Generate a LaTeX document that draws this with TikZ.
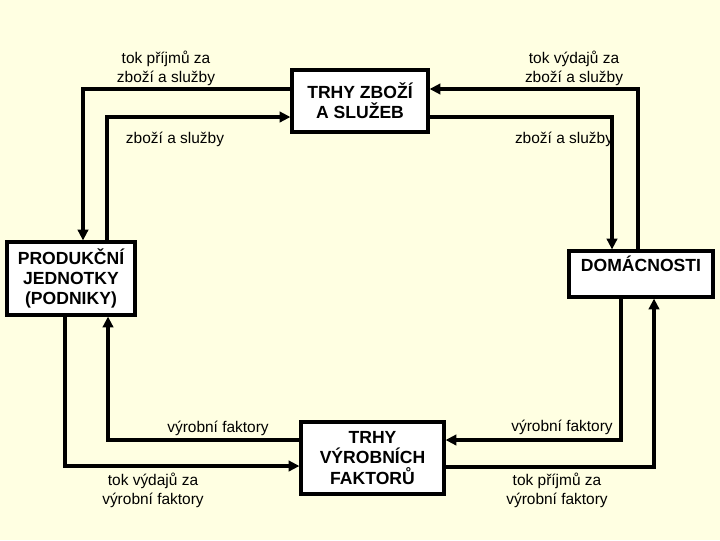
\documentclass[tikz,border=0pt]{standalone}
\usepackage{fontspec}
\setmainfont{Liberation Sans}
\usepackage{tikz}
\usetikzlibrary{arrows.meta, calc}
\definecolor{bgyellow}{RGB}{255,255,226}
\definecolor{mydark}{RGB}{0,0,0}
\tikzset{
  box/.style={rectangle, draw=mydark, fill=white, line width=2.2pt,
    align=center, inner sep=0pt,
    font=\fontsize{12.5}{14.5}\selectfont\bfseries},
  lbl/.style={align=center, inner sep=0pt,
    font=\fontsize{11}{13.5}\selectfont},
  flow/.style={-{Triangle[length=0.27cm, width=0.26cm]}, line width=2.2pt,
    color=mydark},
  line/.style={line width=2.2pt, color=mydark}
}

\begin{document}
\begin{tikzpicture}[x=0.025cm, y=-0.025cm]
  \fill[bgyellow] (0,0) rectangle (720,540);
  \useasboundingbox (0,0) rectangle (720,540);

  % markets and sectors
  \node[box, minimum width=3.4cm, minimum height=1.55cm] (trhyzb) at (360,101)
    {TRHY ZBOŽÍ\\A SLUŽEB};
  \node[box, minimum width=3.2cm, minimum height=1.825cm] (produkcni) at (71,278.5)
    {PRODUKČNÍ\\JEDNOTKY\\(PODNIKY)};
  \node[box, minimum width=3.6cm, text height=0.5cm, text depth=0.65cm] (domacnosti) at (641,274)
    {DOMÁCNOSTI};
  \node[box, minimum width=3.575cm, minimum height=1.8cm] (trhyvf) at (372.5,458)
    {TRHY\\VÝROBNÍCH\\FAKTORŮ};

  % goods market flows
  \draw[flow] ([yshift=0.3cm]trhyzb.west) -| ([xshift=0.3cm]produkcni.north);
  \draw[flow] ([xshift=0.9cm]produkcni.north) |- ([yshift=-0.4cm]trhyzb.west);
  \draw[flow] ([xshift=-0.075cm]domacnosti.north) |- ([yshift=0.3cm]trhyzb.east);
  \draw[flow] ([yshift=-0.4cm]trhyzb.east) -| ([xshift=-0.725cm]domacnosti.north);

  % factor market flows
  \draw[flow] ([xshift=-0.5cm]domacnosti.south) |- ([yshift=0.45cm]trhyvf.east);
  \draw[flow] ([yshift=-0.225cm]trhyvf.east) -| ([xshift=0.325cm]domacnosti.south);
  \draw[flow] ([xshift=-0.15cm]produkcni.south) |- ([yshift=-0.2cm]trhyvf.west);
  \draw[flow] ([yshift=0.45cm]trhyvf.west) -| ([xshift=0.925cm]produkcni.south);

  % labels
  \node[lbl] (prijmyzb) at (166,68) {tok příjmů za\\zboží a služby};
  \node[lbl] (zbleft) at (175,139) {zboží a služby};
  \node[lbl] (vydajezb) at (574,68) {tok výdajů za\\zboží a služby};
  \node[lbl] (zbright) at (564,139) {zboží a služby};
  \node[lbl] (vfleft) at (218,428) {výrobní faktory};
  \node[lbl] (vydajevf) at (153,490) {tok výdajů za\\výrobní faktory};
  \node[lbl] (vfright) at (562,427) {výrobní faktory};
  \node[lbl] (prijmyvf) at (557,490) {tok příjmů za\\výrobní faktory};
\end{tikzpicture}
\end{document}
